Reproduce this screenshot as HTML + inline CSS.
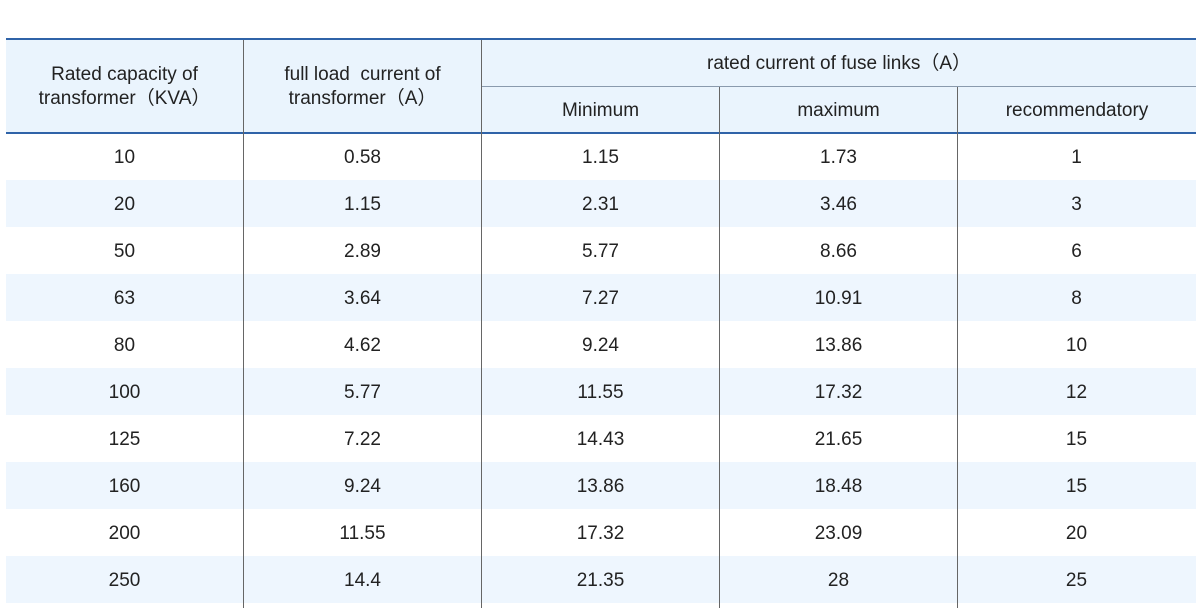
<!DOCTYPE html>
<html><head><style>
body{margin:0;width:1200px;height:608px;background:#fff;position:relative;overflow:hidden;font-family:"Liberation Sans",sans-serif;color:#222;font-size:19px}
.a{position:absolute}
.c{position:absolute;text-align:center;display:flex;align-items:center;justify-content:center;line-height:24px}
</style></head><body>
<div class="a" style="left:6px;top:39px;width:1190px;height:94px;background:#eaf4fd"></div>
<div class="a" style="left:6px;top:38px;width:1190px;height:2px;background:#2f63a8"></div>
<div class="a" style="left:6px;top:132px;width:1190px;height:2px;background:#2f63a8"></div>
<div class="a" style="left:481px;top:86px;width:715px;height:1px;background:#8a9aad"></div>
<div id="rows"></div>
<div class="a" style="left:243px;top:40px;width:1px;height:568px;background:#666"></div>
<div class="a" style="left:481px;top:40px;width:1px;height:568px;background:#666"></div>
<div class="a" style="left:719px;top:87px;width:1px;height:521px;background:#666"></div>
<div class="a" style="left:957px;top:87px;width:1px;height:521px;background:#666"></div>
<div class="c" style="left:6px;top:41px;width:237px;height:92px">Rated capacity of<br>transformer（KVA）</div>
<div class="c" style="left:244px;top:41px;width:237px;height:92px">full load&nbsp; current of<br>transformer（A）</div>
<div class="c" style="left:482px;top:41px;width:714px;height:46px">rated current of fuse links（A）</div>
<div class="c" style="left:482px;top:88px;width:237px;height:45px">Minimum</div>
<div class="c" style="left:720px;top:88px;width:237px;height:45px">maximum</div>
<div class="c" style="left:958px;top:88px;width:238px;height:45px">recommendatory</div>
<script>
var d=[["10","0.58","1.15","1.73","1"],["20","1.15","2.31","3.46","3"],["50","2.89","5.77","8.66","6"],["63","3.64","7.27","10.91","8"],["80","4.62","9.24","13.86","10"],["100","5.77","11.55","17.32","12"],["125","7.22","14.43","21.65","15"],["160","9.24","13.86","18.48","15"],["200","11.55","17.32","23.09","20"],["250","14.4","21.35","28","25"]];
var xs=[6,244,482,720,958],h="";
d.forEach(function(r,i){var y=133+i*47;
if(i%2)h+='<div class="a" style="left:6px;top:'+y+'px;width:1190px;height:47px;background:#eef6fe"></div>';
r.forEach(function(v,j){h+='<div class="c" style="left:'+xs[j]+'px;top:'+(y+2)+'px;width:237px;height:46px">'+v+'</div>';});});
document.getElementById("rows").innerHTML=h;
</script>
</body></html>
